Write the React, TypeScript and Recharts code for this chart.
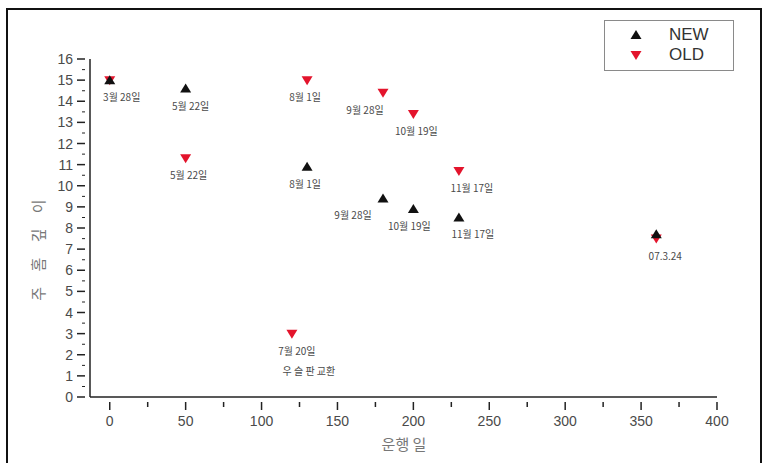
import { Scatter, ScatterChart, XAxis, YAxis, LabelList } from 'recharts'

// operating days vs. groove depth
const newDays = [0, 50, 130, 180, 200, 230, 360]
const newDepth = [15, 14.6, 10.9, 9.4, 8.9, 8.5, 7.7]
const newLabels = ['', '5월 22일', '8월 1일', '9월 28일', '10월 19일', '11월 17일', '']

const oldDays = [0, 50, 120, 130, 180, 200, 230, 360]
const oldDepth = [15, 11.3, 3, 15, 14.4, 13.4, 10.7, 7.5]
const oldLabels = ['3월 28일', '5월 22일', '7월 20일', '8월 1일', '9월 28일', '10월 19일', '11월 17일', '07.3.24']
const oldNotes = ['', '', '우 슬 판 교환', '', '', '', '', '']

const xTicks = [0, 25, 50, 75, 100, 125, 150, 175, 200, 225, 250, 275, 300, 325, 350, 375, 400]
const yTicks = [0, 1, 2, 3, 4, 5, 6, 7, 8, 9, 10, 11, 12, 13, 14, 15, 16]

// label nudges so the text sits where the original annotations were placed
const newLabelDx = [0, 5, -2, -30, -4, 14, 0]
const oldLabelDx = [12, 3, 5, -2, -18, 3, 13, 9]

const newData = newDays.map((d, i) => ({ day: d, depth: newDepth[i], label: newLabels[i], dx: newLabelDx[i], note: '' }))
const oldData = oldDays.map((d, i) => ({ day: d, depth: oldDepth[i], label: oldLabels[i], dx: oldLabelDx[i], note: oldNotes[i] }))

const RED = '#e3142c'
const TXT = '#4a4a4a'
const FONT = '"Liberation Sans", Arial, "Noto Sans CJK KR", sans-serif'
const KFONT = '"Noto Sans CJK KR", sans-serif'

const UpTri = ({ cx, cy }: any) => (
  <path d={`M${cx},${cy - 5} L${cx + 5.5},${cy + 4} L${cx - 5.5},${cy + 4} Z`} fill="#111" />
)
const DownTri = ({ cx, cy }: any) => (
  <path d={`M${cx - 5.5},${cy - 4} L${cx + 5.5},${cy - 4} L${cx},${cy + 5} Z`} fill={RED} />
)

const XTick = ({ x, y, payload }: any) => {
  const major = payload.value % 50 === 0
  return (
    <g>
      <line x1={x} x2={x} y1={y - 3} y2={y + (major ? 5 : 2)} stroke="#222" strokeWidth={1.5} />
      {major && (
        <text x={x} y={y + 21} textAnchor="middle" fontSize={14} fill={TXT} fontFamily={FONT}>
          {payload.value}
        </text>
      )}
    </g>
  )
}

const YTick = ({ x, y, payload }: any) => (
  <g>
    <line x1={x - 5} x2={x + 3} y1={y} y2={y} stroke="#222" strokeWidth={1.5} />
    {payload.value < 16 && <line x1={x} x2={x + 3} y1={y - 10.5} y2={y - 10.5} stroke="#222" strokeWidth={1} />}
    <text x={x - 9} y={y + 5} textAnchor="end" fontSize={14} fill={TXT} fontFamily={FONT}>
      {payload.value}
    </text>
  </g>
)

const PointLabel = (data: any[]) => (props: any) => {
  const { x, y, width, index } = props
  const row = data[index]
  if (!row || !row.label) return null
  const cx = x + (width ?? 0) / 2 + row.dx
  const cy = y + (props.height ?? 0) / 2
  return (
    <g>
      <text x={cx} y={cy + 21} textAnchor="middle" fontSize={10} fill={TXT} fontFamily={KFONT}>
        {row.label}
      </text>
      {row.note && (
        <text x={cx + 12} y={cy + 41} textAnchor="middle" fontSize={10} fill={TXT} fontFamily={KFONT}>
          {row.note}
        </text>
      )}
    </g>
  )
}

const LegendBox = () => (
  <div
    style={{
      position: 'absolute',
      left: 604,
      top: 20,
      width: 130,
      height: 51,
      border: '1px solid #8a8a8a',
      boxSizing: 'border-box',
      fontFamily: FONT,
      fontSize: 17,
      color: '#333',
      paddingTop: 4,
    }}
  >
    {[
      { name: 'NEW', up: true },
      { name: 'OLD', up: false },
    ].map((r) => (
      <div key={r.name} style={{ display: 'flex', alignItems: 'center', height: 20 }}>
        <svg width={64} height={20}>
          {r.up ? <UpTri cx={31} cy={10} /> : <DownTri cx={31} cy={10} />}
        </svg>
        <span>{r.name}</span>
      </div>
    ))}
  </div>
)

export default function App() {
  return (
    <div style={{ position: 'absolute', left: 0, top: 0, width: 768, height: 463, overflow: 'hidden', background: '#fff' }}>
      <div
        style={{
          position: 'absolute',
          left: 6,
          top: 8,
          width: 756,
          height: 470,
          border: '2px solid #111',
          boxSizing: 'border-box',
        }}
      />
      <ScatterChart width={768} height={463} margin={{ top: 59, right: 51, left: 89, bottom: 65 }}>
        <XAxis
          type="number"
          dataKey="day"
          domain={[-13, 400]}
          ticks={xTicks}
          interval={0}
          height={1}
          axisLine={{ stroke: '#222', strokeWidth: 1.5 }}
          tickLine={false}
          tick={<XTick />}
          allowDataOverflow
        />
        <YAxis
          type="number"
          dataKey="depth"
          domain={[0, 16]}
          ticks={yTicks}
          interval={0}
          width={1}
          axisLine={{ stroke: '#222', strokeWidth: 1.5 }}
          tickLine={false}
          tick={<YTick />}
          allowDataOverflow
        />
        <Scatter name="OLD" data={oldData} shape={<DownTri />} isAnimationActive={false}>
          <LabelList dataKey="label" content={PointLabel(oldData)} />
        </Scatter>
        <Scatter name="NEW" data={newData} shape={<UpTri />} isAnimationActive={false}>
          <LabelList dataKey="label" content={PointLabel(newData)} />
        </Scatter>
        <text x={404} y={450} textAnchor="middle" fontSize={15} fill="#777" fontFamily={KFONT}>
          운행 일
        </text>
        <text
          x={44}
          y={247}
          textAnchor="middle"
          fontSize={15}
          fill="#777"
          fontFamily={KFONT}
          transform="rotate(-90 44 247)"
          letterSpacing={6}
        >
          주 홈 깊 이
        </text>
      </ScatterChart>
      <LegendBox />
    </div>
  )
}
